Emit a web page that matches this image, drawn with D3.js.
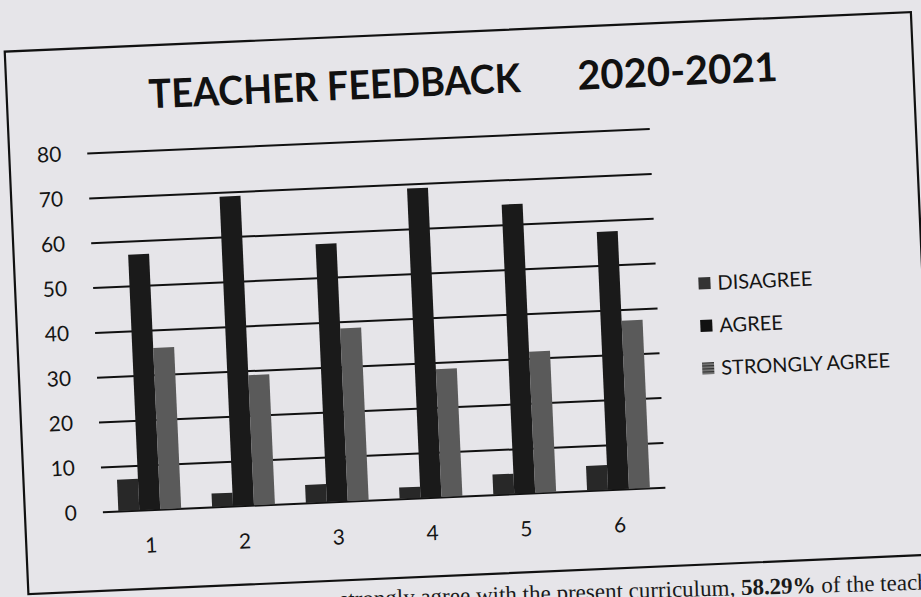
<!DOCTYPE html>
<html>
<head>
<meta charset="utf-8">
<script src="https://cdn.jsdelivr.net/npm/d3@7"></script>
<style>
  html, body { margin: 0; padding: 0; background: #e6e5e9; }
  svg { display: block; }
</style>
</head>
<body>
<div id="chart"></div>
<script>
const categories = ["1", "2", "3", "4", "5", "6"];
const seriesNames = ["DISAGREE", "AGREE", "STRONGLY AGREE"];
const disagree = [7, 3, 4, 2.5, 4.5, 5.5];
const agree = [57, 69, 57.5, 69, 64.5, 57.5];
const stronglyAgree = [36, 29, 38.5, 28.5, 31.5, 37.5];
const yTicks = [0, 10, 20, 30, 40, 50, 60, 70, 80];
const titleLeft = "TEACHER FEEDBACK";
const titleRight = "2020-2021";
const footnoteBefore = "strongly agree with the present curriculum, ";
const footnoteBold = "58.29%";
const footnoteAfter = " of the teachers";

const width = 921, height = 597;
const colors = ["#282828", "#1a1a1a", "#5a5a5a"];
const values = [disagree, agree, stronglyAgree];

const rows = categories.map((c, i) => ({
  cat: c,
  vals: seriesNames.map((s, k) => ({ key: s, value: values[k][i] }))
}));

const svg = d3.select("#chart").append("svg")
  .attr("width", width)
  .attr("height", height);

svg.append("rect").attr("width", width).attr("height", height).attr("fill", "#e6e5e9");

// legend hatch for strongly agree marker
const defs = svg.append("defs");
const pat = defs.append("pattern")
  .attr("id", "hatch")
  .attr("width", 3).attr("height", 3)
  .attr("patternUnits", "userSpaceOnUse");
pat.append("rect").attr("width", 3).attr("height", 3).attr("fill", "#777");
pat.append("rect").attr("width", 3).attr("height", 1.2).attr("fill", "#333");

// the scanned page is tilted a little
const page = svg.append("g").attr("transform", "rotate(-2.5, 460, 300)");

page.append("rect")
  .attr("x", 16).attr("y", 32)
  .attr("width", 907).attr("height", 543)
  .attr("fill", "none")
  .attr("stroke", "#111")
  .attr("stroke-width", 2.2);

const x0 = d3.scaleBand()
  .domain(categories)
  .range([94, 657])
  .paddingInner(0.33)
  .paddingOuter(0.165);

const x1 = d3.scaleBand()
  .domain(seriesNames)
  .range([0, x0.bandwidth()]);

const y = d3.scaleLinear()
  .domain([0, 80])
  .range([496, 137]);

// gridlines
const yAxis = d3.axisLeft(y)
  .tickValues(yTicks)
  .tickSize(-(657 - 94))
  .tickPadding(26)
  .tickFormat(d3.format("d"));

const gy = page.append("g")
  .attr("transform", "translate(94,0)")
  .call(yAxis);
gy.select(".domain").remove();
gy.selectAll(".tick line")
  .attr("stroke", "#111")
  .attr("stroke-width", 2);
gy.selectAll(".tick text")
  .attr("fill", "#151515")
  .attr("font-family", "Lato, 'Open Sans', sans-serif")
  .attr("font-size", 21);

// bars
page.append("g")
  .selectAll("g")
  .data(rows)
  .enter()
  .append("g")
  .attr("transform", d => `translate(${x0(d.cat)},0)`)
  .selectAll("rect")
  .data(d => d.vals)
  .enter()
  .append("rect")
  .attr("x", d => x1(d.key))
  .attr("width", x1.bandwidth())
  .attr("y", d => y(d.value))
  .attr("height", d => y(0) - y(d.value))
  .attr("fill", (d, i) => colors[i]);

// category labels
const xAxis = d3.axisBottom(x0).tickSize(0).tickPadding(28);
const gx = page.append("g")
  .attr("transform", `translate(0,${y(0)})`)
  .call(xAxis);
gx.select(".domain").remove();
gx.selectAll(".tick text")
  .attr("fill", "#151515")
  .attr("font-family", "Lato, 'Open Sans', sans-serif")
  .attr("font-size", 21);

// title
page.append("text")
  .text(titleLeft)
  .attr("x", 158)
  .attr("y", 95)
  .attr("textLength", 372)
  .attr("lengthAdjust", "spacingAndGlyphs")
  .attr("font-family", "Lato, sans-serif")
  .attr("font-weight", "bold")
  .attr("font-size", 40)
  .attr("fill", "#111");

page.append("text")
  .text(titleRight)
  .attr("x", 587)
  .attr("y", 95)
  .attr("font-family", "Lato, sans-serif")
  .attr("font-weight", "bold")
  .attr("font-size", 40)
  .attr("fill", "#111");

// legend
const legend = page.append("g")
  .selectAll("g")
  .data(seriesNames)
  .enter()
  .append("g")
  .attr("transform", (d, i) => `translate(699,${288 + i * 42.5})`);

legend.append("rect")
  .attr("width", 12)
  .attr("height", 12)
  .attr("fill", (d, i) => i === 2 ? "url(#hatch)" : (i === 0 ? "#333" : "#111"));

legend.append("text")
  .text(d => d)
  .attr("x", 19)
  .attr("y", 13)
  .attr("font-family", "Lato, 'Open Sans', sans-serif")
  .attr("font-size", 20)
  .attr("fill", "#151515");

// running text of the page, mostly cut off by the bottom edge
const note = page.append("text")
  .attr("y", 607)
  .attr("transform", "rotate(0.8, 728, 607)")
  .attr("font-family", "'Liberation Serif', 'DejaVu Serif', serif")
  .attr("font-size", 23)
  .attr("fill", "#1a1a1a");
const pre = note.append("tspan").text(footnoteBefore);
note.append("tspan").attr("font-weight", "bold").text(footnoteBold);
note.append("tspan").text(footnoteAfter);
note.attr("x", 728 - pre.node().getComputedTextLength());
</script>
</body>
</html>
